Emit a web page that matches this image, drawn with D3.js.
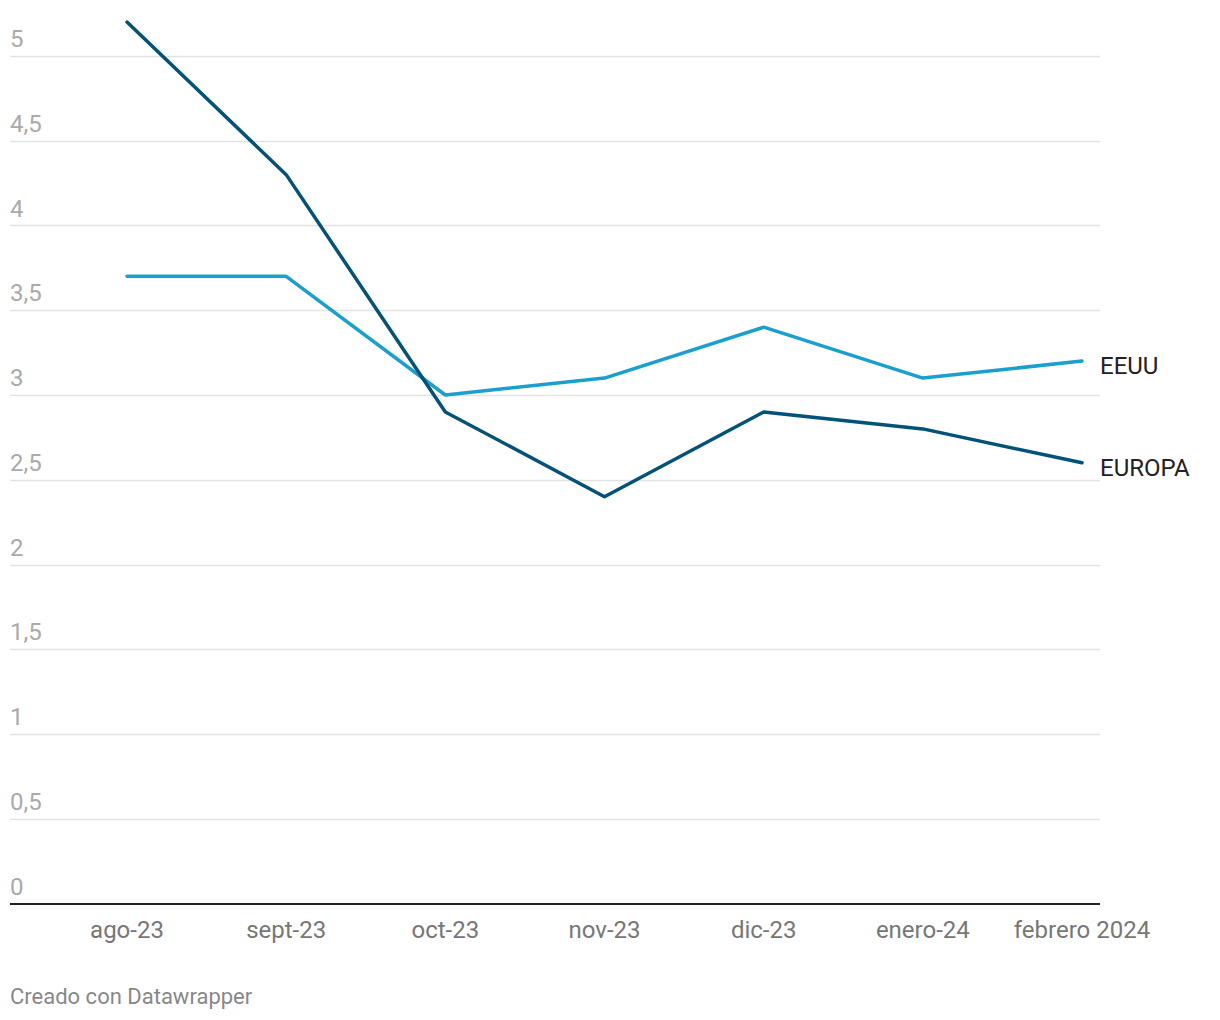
<!DOCTYPE html>
<html><head><meta charset="utf-8">
<script src="https://cdn.jsdelivr.net/npm/d3@7"></script>
<style>body{margin:0;background:#fff;}svg{display:block;font-family:Roboto,sans-serif;}</style>
</head><body>
<svg id="c" width="1220" height="1020"></svg>
<script>
const categories = ["ago-23","sept-23","oct-23","nov-23","dic-23","enero-24","febrero 2024"];
const europa = [5.2, 4.3, 2.9, 2.4, 2.9, 2.8, 2.6];
const eeuu = [3.7, 3.7, 3.0, 3.1, 3.4, 3.1, 3.2];
const yTicks = [0, 0.5, 1, 1.5, 2, 2.5, 3, 3.5, 4, 4.5, 5];
const seriesNames = ["EEUU", "EUROPA"];

const svg = d3.select("#c");
const x = d3.scalePoint().domain(categories).range([127, 1082]);
const y = d3.scaleLinear().domain([0, 5]).range([903.5, 56]);
const fmt = d => String(d).replace(".", ",");

// grid
svg.append("g").selectAll("line").data(yTicks.filter(d => d > 0)).join("line")
  .attr("x1", 10).attr("x2", 1100)
  .attr("y1", d => Math.round(y(d)) + 0.5).attr("y2", d => Math.round(y(d)) + 0.5)
  .attr("stroke", "#e3e3e3").attr("stroke-width", 1.5);
svg.append("g").selectAll("text").data(yTicks).join("text")
  .attr("x", 10).attr("y", d => y(d) - 9)
  .attr("fill", "#aaaaaa").attr("font-size", 24).text(fmt);

// x axis line
svg.append("line").attr("x1", 10).attr("x2", 1100)
  .attr("y1", 904).attr("y2", 904).attr("stroke", "#222").attr("stroke-width", 2);
svg.append("g").selectAll("text").data(categories).join("text")
  .attr("x", d => x(d)).attr("y", 938).attr("text-anchor", "middle")
  .attr("fill", "#777").attr("font-size", 24).text(d => d);

const line = d3.line().x((d, i) => x(categories[i])).y(d => y(d));
const series = [
  {name: seriesNames[0], values: eeuu, color: "#1aa0d0"},
  {name: seriesNames[1], values: europa, color: "#02527a"}
];
series.forEach(s => {
  svg.append("path").attr("d", line(s.values)).attr("fill", "none")
    .attr("stroke", s.color).attr("stroke-width", 3.5)
    .attr("stroke-linejoin", "round").attr("stroke-linecap", "round");
  svg.append("text").attr("x", 1100).attr("y", y(s.values[s.values.length - 1]) + 13)
    .attr("fill", "#222").attr("font-size", 24).text(s.name);
});

svg.append("text").attr("x", 10).attr("y", 1004).attr("fill", "#888")
  .attr("font-size", 22).text("Creado con Datawrapper");
</script>
</body></html>
